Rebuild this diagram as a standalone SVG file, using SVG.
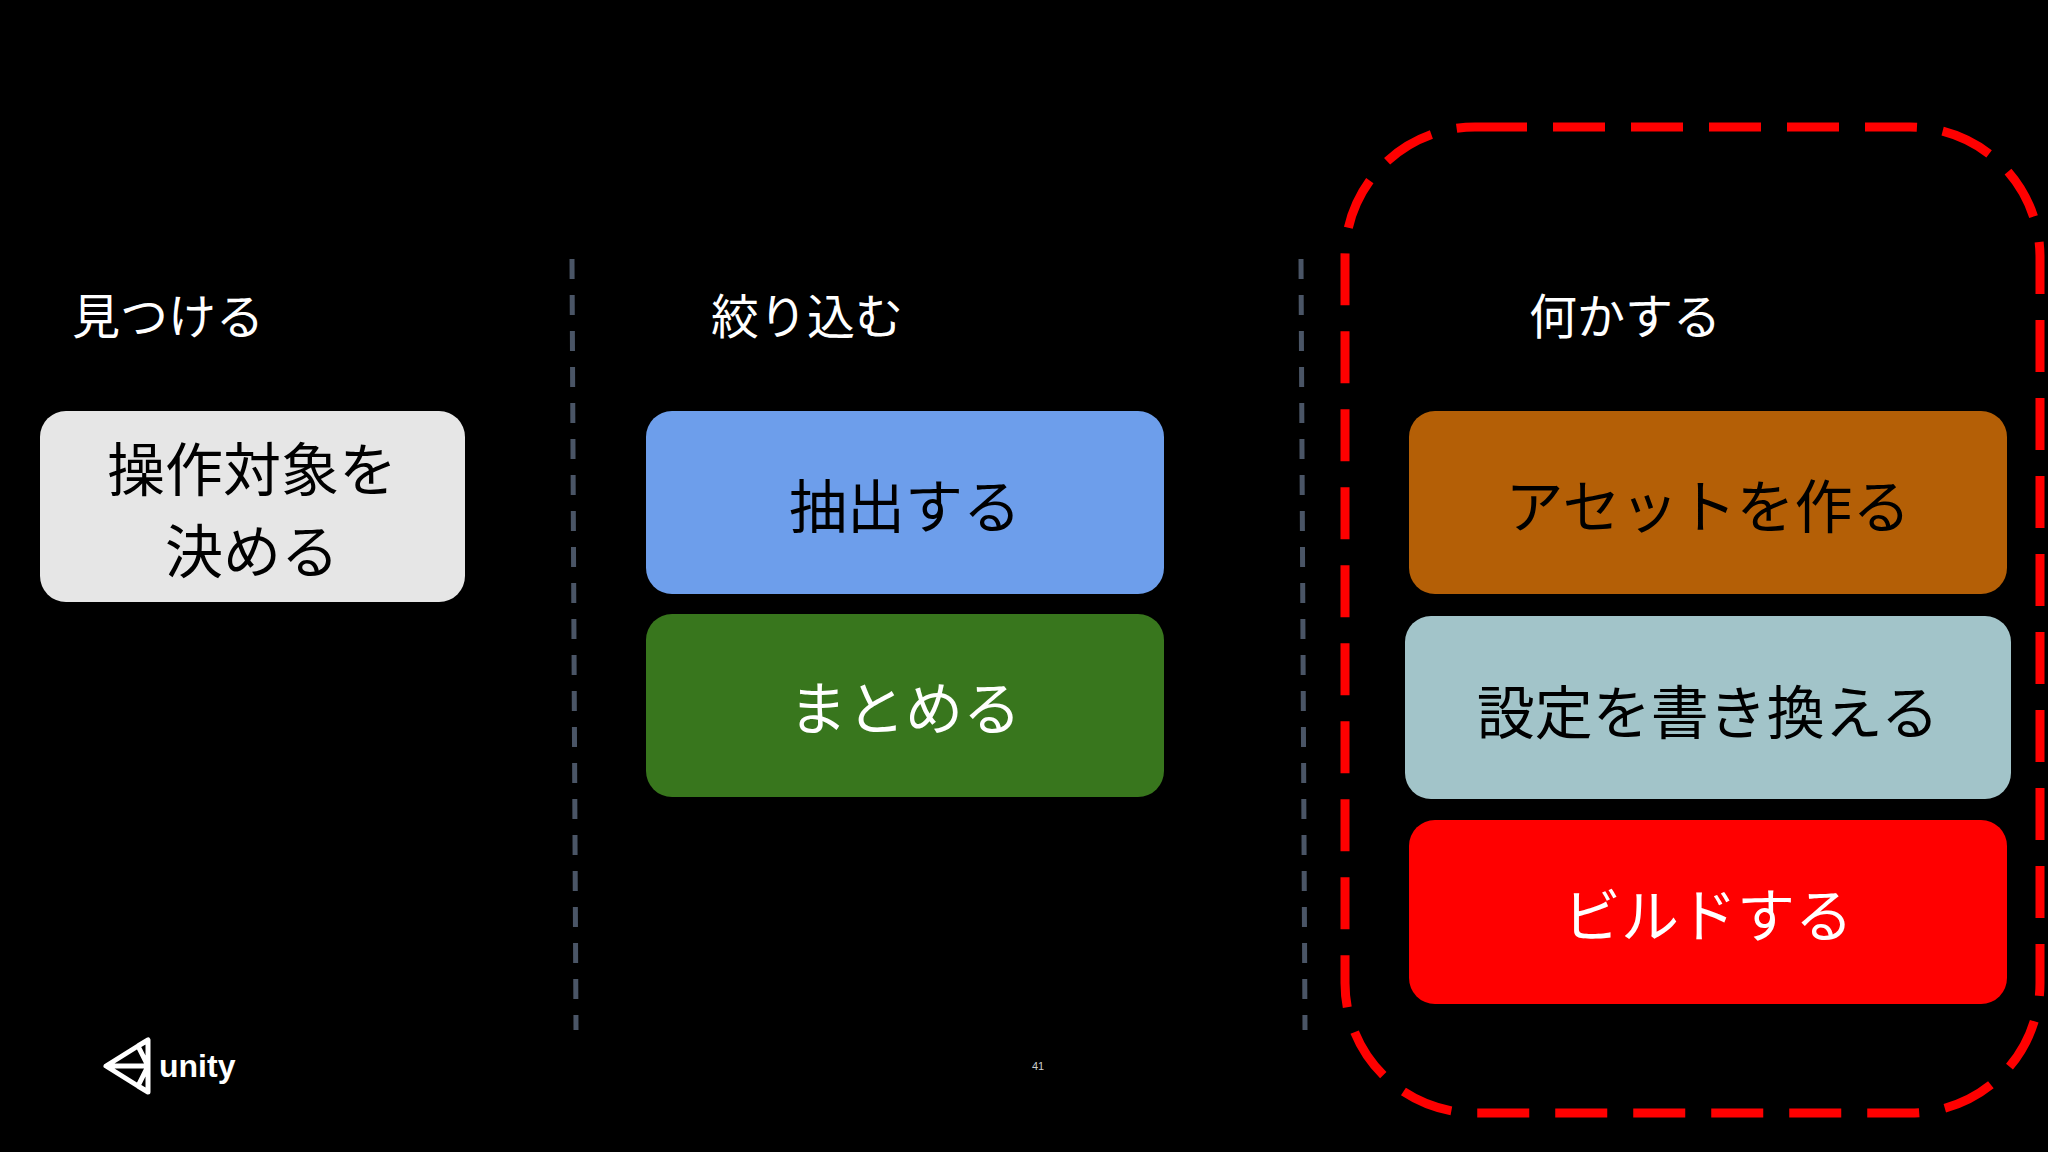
<svg xmlns="http://www.w3.org/2000/svg" width="2048" height="1152" viewBox="0 0 2048 1152">
<style>
.h{font-family:"Noto Sans CJK JP",sans-serif;font-size:48px;fill:#fff;dominant-baseline:central}
.b{font-family:"Noto Sans CJK JP",sans-serif;font-size:58px;text-anchor:middle;dominant-baseline:central}
.sep{stroke:#4a5566;stroke-width:5;stroke-dasharray:20 16;fill:none}
</style>
<rect width="2048" height="1152" fill="#000"/>
<text class="h" x="72" y="313">見つける</text>
<text class="h" x="807" y="313" text-anchor="middle">絞り込む</text>
<text class="h" x="1625" y="313" text-anchor="middle">何かする</text>
<g id="connectors">
<line class="sep" x1="572" y1="259" x2="576" y2="1030"/>
<line class="sep" x1="1301" y1="259" x2="1305" y2="1030"/>
</g>
<g id="n1"><rect x="40" y="411" width="425" height="191" rx="26" fill="#e6e6e6"/>
<text class="b" x="252" y="466" fill="#000">操作対象を</text><text class="b" x="252" y="548" fill="#000">決める</text></g>
<g id="n2"><rect x="646" y="411" width="518" height="183" rx="26" fill="#6d9eeb"/><text class="b" x="905" y="503" fill="#000">抽出する</text></g>
<g id="n3"><rect x="646" y="614" width="518" height="183" rx="26" fill="#38761d"/><text class="b" x="905" y="705" fill="#fff">まとめる</text></g>
<g id="group"><rect x="1345" y="127" width="695" height="986" rx="130" fill="none" stroke="#ff0000" stroke-width="9" stroke-dasharray="52 26"/></g>
<g id="n4"><rect x="1409" y="411" width="598" height="183" rx="26" fill="#b45f06"/><text class="b" x="1708" y="503" fill="#000">アセットを作る</text></g>
<g id="n5"><rect x="1405" y="616" width="606" height="183" rx="26" fill="#a2c4c9"/><text class="b" x="1708" y="709" fill="#000">設定を書き換える</text></g>
<g id="n6"><rect x="1409" y="820" width="598" height="184" rx="26" fill="#ff0000"/><text class="b" x="1708" y="912" fill="#fff">ビルドする</text></g>
<g id="logo" fill="none" stroke="#fff" stroke-width="5" stroke-linejoin="round">
<path d="M106 1066 L138 1046 L148 1066 L138 1086 Z M106 1066 L148 1066 M138 1046 L148 1040 L148 1092 L138 1086"/>
</g>
<text x="159" y="1066" font-family="Liberation Sans,sans-serif" font-weight="bold" font-size="32" fill="#fff" dominant-baseline="central">unity</text>
<text x="1032" y="1066" font-family="Liberation Sans,sans-serif" font-size="11" fill="#ccc" dominant-baseline="central">41</text>
</svg>
